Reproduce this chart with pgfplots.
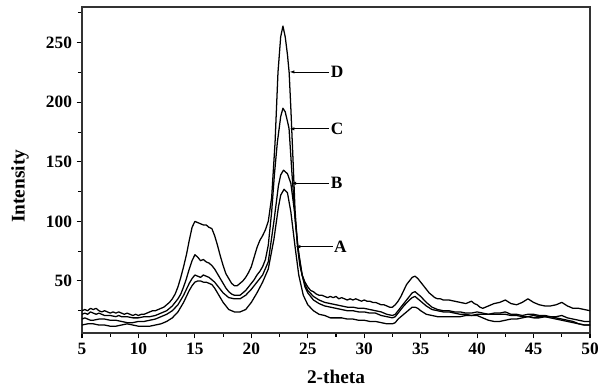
\documentclass[border=0pt]{standalone}
\usepackage{fontspec}
\setmainfont{Liberation Serif}
\usepackage{pgfplots}
\pgfplotsset{compat=1.18}
\usetikzlibrary{arrows.meta}
\tikzset{curve/.style={black, line width=0.95pt, mark=none, line join=round}}
\begin{document}
\begin{tikzpicture}
\begin{axis}[
  scale only axis,
  width=381pt, height=244.5pt,
  xmin=5, xmax=50, ymin=6.3, ymax=280,
  xtick={5,10,...,50}, ytick={50,100,...,250},
  minor xtick={7.5,12.5,...,47.5},
  minor ytick={25,75,...,275},
  tick align=outside,
  tick pos=left,
  major tick length=4pt, minor tick length=3pt,
  major tick style={black, line width=0.8pt},
  minor tick style={black, line width=0.8pt},
  axis line style={line width=0.9pt, black!80},
  /pgf/number format/assume math mode=true,
  ticklabel style={font=\fontsize{13}{14}\selectfont\bfseries},
  xlabel={2-theta}, ylabel={Intensity},
  label style={font=\fontsize{14.5}{16}\selectfont\bfseries},
  xlabel style={at={(axis description cs:0.5,-0.135)}, anchor=center},
  ylabel style={at={(axis description cs:-0.122,0.45)}, anchor=center},
  clip=false,
]
% D
\addplot[curve] coordinates {(5,25)(5.25,26)(5.5,25)(5.75,27)(6,26)(6.25,27)(6.5,25)(6.75,24)(7,25)(7.25,24)(7.5,23)(7.75,24)(8,23)(8.25,24)(8.5,23)(8.75,22)(9,23)(9.25,22)(9.5,21)(9.75,22)(10,21)(10.25,22)(10.5,22)(10.75,23)(11,24)(11.25,25)(11.5,25)(11.75,26)(12,27)(12.25,28)(12.5,30)(12.75,32)(13,35)(13.25,39)(13.5,45)(13.75,53)(14,62)(14.25,72)(14.5,84)(14.75,95)(15,100)(15.25,99)(15.5,98)(15.75,97)(16,97)(16.25,95)(16.5,94)(16.75,88)(17,80)(17.25,71)(17.5,63)(17.75,56)(18,52)(18.25,48)(18.5,46)(18.75,46)(19,48)(19.25,50)(19.5,53)(19.75,57)(20,62)(20.25,70)(20.5,78)(20.75,84)(21,88)(21.25,93)(21.5,100)(21.8,120)(22.1,166)(22.36,225)(22.6,255)(22.8,264)(23,255)(23.2,240)(23.35,225)(23.5,195)(23.7,150)(23.87,110)(24.1,78)(24.3,63)(24.5,55)(24.75,49)(25,45)(25.25,42)(25.5,41)(25.75,39)(26,38)(26.25,38)(26.5,37)(26.75,36)(27,37)(27.25,36)(27.5,37)(27.75,35)(28,36)(28.25,35)(28.5,34)(28.75,35)(29,34)(29.25,35)(29.5,34)(29.75,33)(30,34)(30.25,33)(30.5,33)(30.75,32)(31,32)(31.25,31)(31.5,30)(31.75,30)(32,29)(32.25,28)(32.5,28)(32.75,30)(33,33)(33.25,37)(33.5,42)(33.75,47)(34,50)(34.25,53)(34.5,54)(34.75,52)(35,49)(35.25,46)(35.5,43)(35.75,40)(36,38)(36.25,36)(36.5,35)(36.75,35)(37,34)(37.5,34)(38,33)(38.5,32)(39,31)(39.25,32)(39.5,33)(39.75,31)(40,30)(40.25,28)(40.5,27)(40.75,28)(41,29)(41.5,31)(42,32)(42.5,34)(43,31)(43.5,30)(44,32)(44.5,35)(45,32)(45.5,30)(46,29)(46.5,29)(47,30)(47.5,32)(48,29)(48.5,27)(49,27)(49.5,26)(50,25)};
% C
\addplot[curve] coordinates {(5,22)(5.25,23)(5.5,22)(5.75,24)(6,23)(6.25,22)(6.5,23)(6.75,22)(7,21)(7.5,21)(8,20)(8.25,21)(8.5,20)(9,20)(9.5,19)(10,19)(10.5,20)(11,20)(11.5,21)(12,23)(12.5,25)(13,29)(13.5,35)(13.75,39)(14,45)(14.25,52)(14.5,60)(14.75,67)(15,72)(15.25,70)(15.5,67)(15.75,68)(16,66)(16.25,65)(16.5,63)(16.75,60)(17,56)(17.25,52)(17.5,48)(17.75,44)(18,41)(18.25,39)(18.5,38)(18.75,38)(19,38)(19.25,40)(19.5,42)(19.75,45)(20,48)(20.25,51)(20.5,55)(20.75,58)(21,62)(21.25,68)(21.5,80)(21.8,108)(22.05,140)(22.3,166)(22.6,188)(22.8,195)(23,192)(23.2,184)(23.34,178)(23.6,140)(23.9,100)(24.2,72)(24.5,55)(24.75,47)(25,42)(25.5,37)(26,34)(26.5,32)(27,31)(27.5,30)(28,29)(28.5,28)(29,28)(29.5,27)(30,27)(30.5,26)(31,25)(31.5,24)(32,22)(32.5,21)(32.75,22)(33,25)(33.5,31)(34,37)(34.25,40)(34.5,41)(34.75,39)(35,37)(35.5,32)(36,28)(36.5,26)(37,25)(37.5,25)(38,24)(38.5,24)(39,23)(39.5,23)(40,24)(40.5,23)(41,22)(41.5,23)(42,23)(42.5,24)(43,22)(43.5,22)(44,21)(44.5,22)(45,22)(45.5,21)(46,21)(46.5,20)(47,20)(47.5,21)(48,19)(48.5,18)(49,17)(49.5,16)(50,16)};
% B
\addplot[curve] coordinates {(5,18)(5.25,19)(5.5,18)(5.75,17)(6,17)(6.5,18)(7,18)(7.5,17)(8,17)(8.5,16)(9,15)(9.5,15)(10,16)(10.5,16)(11,17)(11.5,18)(12,20)(12.5,22)(13,25)(13.5,30)(13.75,34)(14,38)(14.25,43)(14.5,48)(14.75,52)(15,55)(15.25,54)(15.5,53)(15.75,55)(16,54)(16.25,53)(16.5,51)(16.75,49)(17,46)(17.25,43)(17.5,40)(17.75,38)(18,36)(18.5,35)(19,35)(19.5,38)(20,43)(20.5,49)(21,55)(21.5,66)(22,100)(22.4,130)(22.6,139)(22.85,143)(23.2,140)(23.5,132)(23.8,110)(24.1,80)(24.5,55)(24.75,45)(25,40)(25.5,34)(26,31)(26.5,29)(27,28)(27.5,27)(28,26)(28.5,25)(29,25)(29.5,24)(30,24)(30.5,23)(31,23)(31.5,21)(32,20)(32.5,19)(32.75,20)(33,23)(33.5,29)(34,34)(34.25,36)(34.5,37)(34.75,35)(35,33)(35.5,29)(36,26)(36.5,25)(37,24)(37.5,24)(38,23)(38.5,22)(39,22)(39.5,21)(40,21)(40.5,19)(41,17)(41.5,16)(42,16)(42.5,17)(43,18)(43.5,18)(44,19)(44.5,20)(45,21)(45.5,20)(46,20)(46.5,19)(47,18)(47.5,17)(48,16)(48.5,15)(49,14)(49.5,13)(50,13)};
% A
\addplot[curve] coordinates {(5,13)(5.5,14)(6,14)(6.5,13)(7,13)(7.5,12)(8,12)(8.5,13)(9,14)(9.5,13)(10,12)(10.5,12)(11,12)(11.5,13)(12,14)(12.5,16)(13,19)(13.5,24)(14,32)(14.25,37)(14.5,42)(14.75,46)(15,49)(15.25,50)(15.5,50)(15.75,49)(16,49)(16.25,48)(16.5,47)(16.75,44)(17,40)(17.25,36)(17.5,32)(17.75,29)(18,26)(18.5,24)(19,24)(19.5,26)(20,32)(20.5,40)(21,49)(21.5,60)(22,85)(22.4,112)(22.6,122)(22.9,127)(23.2,124)(23.5,108)(23.87,79)(24.2,55)(24.6,38)(25,30)(25.5,25)(26,22)(26.5,21)(27,19)(27.5,19)(28,19)(28.5,18)(29,18)(29.5,17)(30,17)(30.5,16)(31,16)(31.5,15)(32,14)(32.5,14)(32.75,15)(33,18)(33.5,22)(34,26)(34.25,28)(34.5,28)(34.75,27)(35,25)(35.5,22)(36,21)(36.5,20)(37,20)(37.5,20)(38,20)(38.5,20)(39,21)(39.5,21)(40,22)(40.5,22)(41,22)(41.5,22)(42,22)(42.5,22)(43,21)(43.5,21)(44,20)(44.5,20)(45,19)(45.5,19)(46,20)(46.5,20)(47,19)(47.5,18)(48,17)(48.5,16)(49,14)(49.5,13)(50,13)};
% annotations
\draw[-{Latex[length=3.5pt,width=2.5pt]}, line width=0.6pt] (axis cs:26.9,225.5) -- (axis cs:23.4,225.5);
\draw[-{Latex[length=3.5pt,width=2.5pt]}, line width=0.6pt] (axis cs:26.9,177.7) -- (axis cs:23.4,177.7);
\draw[-{Latex[length=3.5pt,width=2.5pt]}, line width=0.6pt] (axis cs:26.9,132) -- (axis cs:23.55,132);
\draw[-{Latex[length=3.5pt,width=2.5pt]}, line width=0.6pt] (axis cs:27.2,78.8) -- (axis cs:23.93,78.8);
\node[anchor=west, inner sep=1pt, font=\fontsize{13}{14}\selectfont\bfseries] at (axis cs:26.9,225.5) {D};
\node[anchor=west, inner sep=1pt, font=\fontsize{13}{14}\selectfont\bfseries] at (axis cs:26.9,177.7) {C};
\node[anchor=west, inner sep=1pt, font=\fontsize{13}{14}\selectfont\bfseries] at (axis cs:26.9,132) {B};
\node[anchor=west, inner sep=1pt, font=\fontsize{13}{14}\selectfont\bfseries] at (axis cs:27.2,78.8) {A};
\end{axis}
\pgfresetboundingbox
\path[use as bounding box] (current axis.south west) ++(-61.5pt,-40.5pt) rectangle ([shift={(6pt,5.25pt)}]current axis.north east);
\end{tikzpicture}
\end{document}
